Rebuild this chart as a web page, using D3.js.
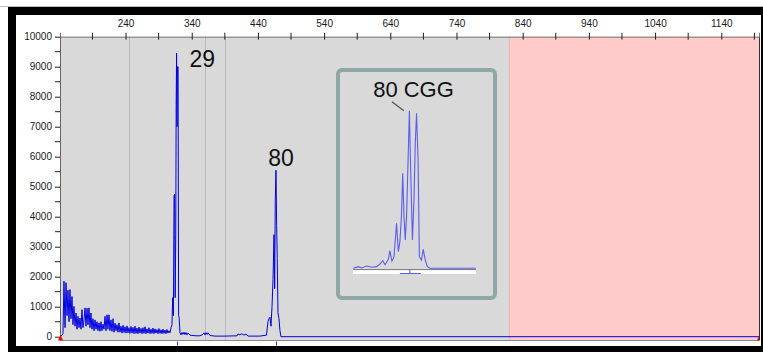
<!DOCTYPE html>
<html>
<head>
<meta charset="utf-8">
<script src="https://cdn.jsdelivr.net/npm/d3@7"></script>
<style>
  body { margin: 0; background: #fff; }
  svg { display: block; }
</style>
</head>
<body>
<script>
// Fragile X electropherogram: fragment size (bp) vs signal (RFU)
// main trace
var traceSize = [141.0, 142.5, 144.0, 145.5, 147.0, 148.6, 150.1, 151.6, 153.1, 154.6,
  156.1, 157.6, 159.1, 160.6, 162.1, 163.7, 165.2, 166.7, 168.2, 169.7,
  171.2, 172.7, 174.2, 175.7, 177.3, 178.8, 180.3, 181.8, 183.3, 184.8,
  186.3, 187.8, 189.3, 190.8, 192.4, 193.9, 195.4, 196.9, 198.4, 199.9,
  201.4, 202.9, 204.4, 206.0, 207.5, 209.0, 210.5, 212.0, 213.5, 215.0,
  216.5, 218.0, 219.6, 221.1, 222.6, 224.1, 225.6, 227.1, 228.6, 230.1,
  231.6, 233.1, 234.7, 236.2, 237.7, 239.2, 240.7, 242.2, 243.7, 245.2,
  246.7, 248.3, 249.8, 251.3, 252.8, 254.3, 255.8, 257.3, 258.8, 260.3,
  261.8, 263.4, 264.9, 266.4, 267.9, 269.4, 270.9, 272.4, 273.9, 275.4,
  277.0, 278.5, 280.0, 281.5, 283.0, 284.5, 286.0, 287.5, 289.0, 290.5,
  292.1, 293.6, 295.1, 296.6, 298.1, 299.6, 301.1, 302.6, 304.1, 305.7,
  307.2,
  // allele 29
  308.7, 310.2, 311.2, 312.3, 313.3, 314.2, 315.0, 315.9, 316.5, 317.1, 317.8, 318.5, 319.4, 320.2, 320.9, 322.3,
  323.8, 325.3, 326.8, 328.3, 329.8, 331.3, 332.8, 334.4, 337.4, 341.9, 346.4, 352.5,
  357.0, 358.5, 360.0, 361.5, 363.1, 364.6, 367.6, 375.1, 390.2,
  408.4, 409.9, 412.9, 415.9, 418.9, 422.0, 425.0, 443.1, 452.2,
  // allele 80
  452.9, 455.2, 456.7, 458.2, 459.7, 461.3, 462.8, 464.3, 465.3, 466.2, 467.3, 468.3, 469.2, 470.3, 471.8, 473.3, 474.8,
  1197];
var traceRfu = [0, 20, 50, 100, 1850, 300, 1800, 700, 1550, 500,
  1570, 600, 1340, 400, 1010, 350, 790, 250, 680, 300,
  620, 250, 900, 300, 560, 960, 350, 950, 400, 960,
  300, 790, 250, 600, 200, 560, 250, 500, 200, 460,
  180, 500, 200, 420, 250, 680, 200, 730, 250, 730,
  200, 560, 180, 600, 150, 450, 200, 400, 150, 460,
  150, 350, 120, 380, 140, 330, 120, 360, 130, 300,
  110, 340, 120, 310, 100, 350, 110, 290, 100, 320,
  120, 280, 100, 300, 110, 330, 100, 260, 120, 300,
  100, 250, 110, 290, 100, 260, 120, 240, 100, 270,
  110, 230, 100, 250, 110, 220, 100, 240, 120, 200,
  130,
  300, 400, 1300, 700, 4700, 4750, 1300, 3400, 7700, 9450, 7000, 9000, 9000, 700, 650, 130,
  60, 140, 80, 150, 70, 140, 60, 120, 50, 40, 30, 30,
  80, 130, 60, 140, 70, 130, 40, 20, 20,
  30, 90, 60, 100, 50, 90, 20, 20, 50,
  50, 500, 600, 650, 350, 1000, 1900, 3400, 1600, 4500, 5550, 3700, 2600, 800, 600, 200, 0,
  0];

// zoomed view of the 80 repeat allele (stutter peaks)
var insetSize = [444.1, 446.1, 447.4, 449.3, 451.3, 453.2, 454.5, 455.6, 456.5, 457.8,
  458.4, 459.2, 460.0, 460.5, 461.0, 461.7, 462.3, 462.9, 463.4, 463.9,
  464.4, 464.9, 465.6, 466.0, 466.5, 467.2, 467.8, 468.3, 468.8, 469.4,
  469.9, 470.7, 471.4, 472.2, 473.0, 474.0, 491.9];
var insetRfu = [0, 58, 12, 82, 35, 58, 153, 271, 129, 320,
  627, 249, 413, 1006, 1599, 591, 946, 1835, 3375, 1835,
  1006, 1835, 4204, 5600, 3494, 1006, 2428, 4441, 5507, 3849,
  413, 296, 675, 296, 58, 0, 0];

var peakLabels = ["29", "80"];
var peakSize = [317.1, 467.3];
var peakRfu = [9450, 5550];
var insetLabel = "80 CGG";
var insetPeakSize = 466.0;
var insetPeakRfu = 5600;
var insetMarkSize = 466.2;

var binLines = [245.2, 360, 391];
var sizeDomain = [141, 1197];
var pinkFrom = 820;
var xTicks = [240, 340, 440, 540, 640, 740, 840, 940, 1040, 1140];
var xMinorTicks = [190, 290, 390, 490, 590, 690, 790, 890, 990, 1090, 1190];
var yTicks = [0, 1000, 2000, 3000, 4000, 5000, 6000, 7000, 8000, 9000, 10000];
var yMinorTicks = [500, 1500, 2500, 3500, 4500, 5500, 6500, 7500, 8500, 9500];

var W = 763, H = 352;
var plot = { left: 60, right: 759, top: 36.7, zero: 336.7, bottom: 340.5 };
var fontAxis = "'Liberation Sans', Arial, sans-serif";

var svg = d3.select("body").append("svg")
  .attr("width", W).attr("height", H);

// frame
svg.append("rect").attr("width", W).attr("height", H).attr("fill", "#fff");
svg.append("line").attr("x1", 0).attr("x2", W).attr("y1", 6.5).attr("y2", 6.5)
  .attr("stroke", "#bbb");
svg.append("rect").attr("x", 8).attr("y", 7).attr("width", W - 8).attr("height", H - 7)
  .attr("fill", "#000");
svg.append("rect").attr("x", 16).attr("y", 15).attr("width", 745).attr("height", 331)
  .attr("fill", "#fff");

var x = d3.scaleLinear().domain(sizeDomain).range([plot.left, plot.right]);
var y = d3.scaleLinear().domain([0, 10000]).range([plot.zero, plot.top]);

// backgrounds
svg.append("rect")
  .attr("x", plot.left).attr("y", plot.top)
  .attr("width", plot.right - plot.left).attr("height", plot.bottom - plot.top)
  .attr("fill", "#d9d9d9");
svg.append("rect")
  .attr("x", x(pinkFrom)).attr("y", plot.top)
  .attr("width", plot.right - x(pinkFrom)).attr("height", plot.bottom - plot.top)
  .attr("fill", "#ffcaca");
svg.append("line")
  .attr("x1", x(pinkFrom)).attr("x2", x(pinkFrom))
  .attr("y1", plot.top).attr("y2", plot.bottom)
  .attr("stroke", "#e8b4b4");

svg.selectAll(".bin").data(binLines).enter().append("line")
  .attr("class", "bin")
  .attr("x1", d => Math.round(x(d)) + 0.5).attr("x2", d => Math.round(x(d)) + 0.5)
  .attr("y1", plot.top).attr("y2", plot.bottom)
  .attr("stroke", "#b9b9b9");

// bottom edge + right edge
svg.append("line").attr("x1", plot.left).attr("x2", plot.right)
  .attr("y1", plot.bottom).attr("y2", plot.bottom).attr("stroke", "#8a8a8a");
svg.append("line").attr("x1", plot.right + 0.5).attr("x2", plot.right + 0.5)
  .attr("y1", plot.top).attr("y2", plot.bottom).attr("stroke", "#333");

// top axis
var xAxis = d3.axisTop(x).tickValues(xTicks).tickSize(4).tickPadding(6)
  .tickFormat(d3.format("d"));
var gx = svg.append("g").attr("transform", "translate(0," + plot.top + ")").call(xAxis);
gx.select(".domain").attr("stroke", "#777");
gx.selectAll(".tick line").attr("y2", -4).attr("y1", 3).attr("stroke", "#222");
gx.selectAll(".tick text").attr("font-family", fontAxis).attr("font-size", 10)
  .attr("fill", "#1a1a1a");
gx.selectAll(".minor").data(xMinorTicks).enter().append("line")
  .attr("class", "minor")
  .attr("x1", d => x(d)).attr("x2", d => x(d))
  .attr("y1", -4).attr("y2", 3).attr("stroke", "#222");

// left axis
var yAxis = d3.axisLeft(y).tickValues(yTicks).tickSize(5).tickPadding(3)
  .tickFormat(d3.format("d"));
var gy = svg.append("g").attr("transform", "translate(" + plot.left + ",0)").call(yAxis);
gy.select(".domain").attr("stroke", "#666").attr("d", "M0.5," + plot.top + "V" + plot.bottom);
gy.selectAll(".tick line").attr("stroke", "#222");
gy.selectAll(".tick text").attr("font-family", fontAxis).attr("font-size", 10)
  .attr("fill", "#1a1a1a");
gy.selectAll(".minor").data(yMinorTicks).enter().append("line")
  .attr("class", "minor")
  .attr("x1", -5).attr("x2", 0)
  .attr("y1", d => y(d)).attr("y2", d => y(d)).attr("stroke", "#222");

// trace
svg.append("clipPath").attr("id", "clip").append("rect")
  .attr("x", plot.left).attr("y", plot.top)
  .attr("width", plot.right - plot.left).attr("height", plot.bottom - plot.top);

var line = d3.line()
  .x((d, i) => x(traceSize[i]))
  .y((d, i) => y(traceRfu[i]));
svg.append("path")
  .attr("clip-path", "url(#clip)")
  .attr("d", line(traceSize))
  .attr("fill", "none")
  .attr("stroke", "#0000e0")
  .attr("stroke-width", 1);

// allele markers under the axis
svg.selectAll(".mark").data(peakSize).enter().append("line")
  .attr("class", "mark")
  .attr("x1", d => Math.round(x(d)) + 0.5).attr("x2", d => Math.round(x(d)) + 0.5)
  .attr("y1", plot.bottom + 1).attr("y2", plot.bottom + 5)
  .attr("stroke", "#3030ff");

// red start/end markers
svg.append("path")
  .attr("d", "M" + (x(sizeDomain[0]) - 2) + "," + (plot.bottom) + "L" + (x(sizeDomain[0]) + 3) + "," + (plot.bottom) +
    "L" + (x(sizeDomain[0]) + 0.5) + "," + (y(0) - 2) + "Z")
  .attr("fill", "#ff0000");
svg.append("path")
  .attr("d", "M" + (x(sizeDomain[1]) - 2) + "," + (plot.bottom) + "L" + x(sizeDomain[1]) + "," + (y(0) - 1) +
    "L" + x(sizeDomain[1]) + "," + plot.bottom + "Z")
  .attr("fill", "#ff0000");

// peak labels
var labelOffset = [[13, 14], [5, -4]];
var labelAnchor = ["start", "middle"];
svg.selectAll(".plabel").data(peakLabels).enter().append("text")
  .attr("class", "plabel")
  .attr("x", (d, i) => x(peakSize[i]) + labelOffset[i][0])
  .attr("y", (d, i) => y(peakRfu[i]) + labelOffset[i][1])
  .attr("text-anchor", (d, i) => labelAnchor[i])
  .attr("font-family", fontAxis)
  .attr("font-size", 23)
  .attr("fill", "#111")
  .text(d => d);

// inset
var box = { x: 338, y: 70, w: 157, h: 228 };
var ix = d3.scaleLinear().domain([444, 492]).range([353, 476]);
var iy = d3.scaleLinear().domain([0, 6000]).range([268.3, 99.4]);

svg.append("rect")
  .attr("x", box.x).attr("y", box.y).attr("width", box.w).attr("height", box.h)
  .attr("rx", 4)
  .attr("fill", "#d9d9d9")
  .attr("stroke", "#8ea7a7")
  .attr("stroke-width", 4);

svg.append("rect")
  .attr("x", ix(444)).attr("y", 269.5)
  .attr("width", ix(492) - ix(444)).attr("height", 4.5)
  .attr("fill", "#fff");
svg.append("line")
  .attr("x1", ix(444)).attr("x2", ix(492)).attr("y1", 269.6).attr("y2", 269.6)
  .attr("stroke", "#777");

var insetLine = d3.line()
  .x((d, i) => ix(insetSize[i]))
  .y((d, i) => iy(insetRfu[i]));
svg.append("path")
  .attr("d", insetLine(insetSize))
  .attr("fill", "none")
  .attr("stroke", "#5c5cee")
  .attr("stroke-width", 1.1);

svg.append("line")
  .attr("x1", ix(insetMarkSize)).attr("x2", ix(insetMarkSize))
  .attr("y1", 269).attr("y2", 273.5)
  .attr("stroke", "#5c5cee");
svg.append("line")
  .attr("x1", ix(insetMarkSize) - 10).attr("x2", ix(insetMarkSize) + 11)
  .attr("y1", 273.5).attr("y2", 273.5)
  .attr("stroke", "#5c5cee");

svg.append("line")
  .attr("x1", ix(insetPeakSize) - 17.5).attr("y1", iy(insetPeakRfu) - 9)
  .attr("x2", ix(insetPeakSize) - 5.5).attr("y2", iy(insetPeakRfu))
  .attr("stroke", "#555")
  .attr("stroke-width", 1.3);

svg.append("text")
  .attr("x", 413.5).attr("y", 96.5)
  .attr("text-anchor", "middle")
  .attr("font-family", fontAxis)
  .attr("font-size", 22)
  .attr("fill", "#111")
  .text(insetLabel);
</script>
</body>
</html>
